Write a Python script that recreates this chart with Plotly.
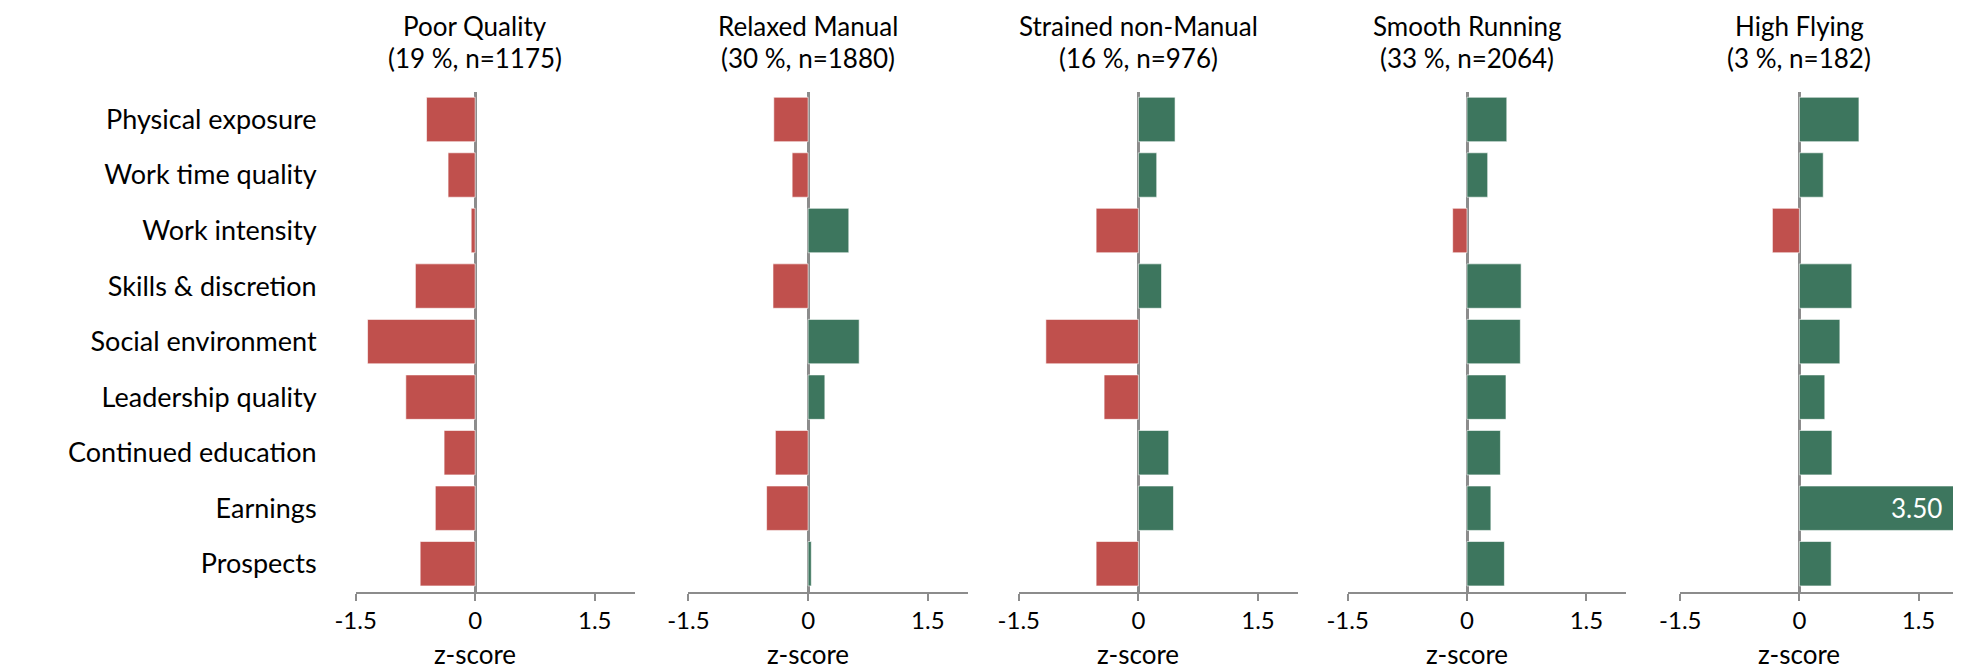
import plotly.graph_objects as go

categories = ["Physical exposure", "Work time quality", "Work intensity",
              "Skills & discretion", "Social environment", "Leadership quality",
              "Continued education", "Earnings", "Prospects"]

cluster_names = ["Poor Quality", "Relaxed Manual", "Strained non-Manual",
                 "Smooth Running", "High Flying"]
cluster_sizes = ["(19 %, n=1175)", "(30 %, n=1880)", "(16 %, n=976)",
                 "(33 %, n=2064)", "(3 %, n=182)"]

poor_quality = [-0.61, -0.34, -0.05, -0.75, -1.35, -0.87, -0.39, -0.50, -0.69]
relaxed_manual = [-0.43, -0.20, 0.51, -0.44, 0.64, 0.21, -0.41, -0.52, 0.04]
strained_non_manual = [0.46, 0.23, -0.53, 0.29, -1.16, -0.43, 0.38, 0.44, -0.53]
smooth_running = [0.50, 0.26, -0.18, 0.68, 0.67, 0.49, 0.42, 0.30, 0.47]
high_flying = [0.75, 0.30, -0.34, 0.66, 0.51, 0.32, 0.41, 3.50, 0.40]

series = [poor_quality, relaxed_manual, strained_non_manual, smooth_running, high_flying]

tick_vals = [-1.5, 0, 1.5]
tick_text = ["-1.5", "0", "1.5"]

RED = "#C0504D"
GREEN = "#3D765E"
AXIS = "#8C8C8C"
FONT = "Lato"

W, H = 1961, 670
OFF = 8  # default page body margin
# pixel positions on the page (left of -1.5 tick, right end of axis)
x_pages = [(355.6, 634.6), (688.4, 967.7), (1018.75, 1297.9), (1347.6, 1626.2), (1680.3, 1961 + OFF)]
x_ranges = [[-1.5, 2.0]] * 4 + [[-1.5, 2.0 + (1961 + OFF - 1958.2) / 79.4]]
y_top, y_bot = 91.7, 591.5
y_domain = [(H - (y_bot - OFF)) / H, (H - (y_top - OFF)) / H]


def py(page_y):
    return (H - (page_y - OFF)) / H


fig = go.Figure()
layout = dict(
    width=W, height=H, margin=dict(l=0, r=0, t=0, b=0, autoexpand=False),
    paper_bgcolor="white", plot_bgcolor="white", showlegend=False,
    bargap=0.2, font=dict(family=FONT, size=27, color="black"),
)
annotations = []

for i, vals in enumerate(series):
    n = "" if i == 0 else str(i + 1)
    colors = [GREEN if v >= 0 else RED for v in vals]
    fig.add_trace(go.Bar(
        x=vals, y=categories, orientation="h",
        marker=dict(color=colors, line=dict(color="rgba(255,255,255,0.6)", width=1)),
        xaxis="x" + n, yaxis="y" + n, hoverinfo="x+y",
    ))
    layout["xaxis" + n] = dict(
        domain=[(x_pages[i][0] - OFF) / W, min(1.0, (x_pages[i][1] - OFF) / W)],
        range=x_ranges[i],
        anchor="y" + n, showgrid=False, showline=True, linecolor=AXIS, linewidth=2,
        ticks="outside", ticklen=7, tickwidth=2, tickcolor=AXIS,
        tickvals=tick_vals, ticktext=tick_text, tickfont=dict(size=24),
        zeroline=True, zerolinecolor=AXIS, zerolinewidth=2.5, fixedrange=True,
        automargin=False,
    )
    layout["yaxis" + n] = dict(
        domain=y_domain, anchor="x" + n, categoryorder="array",
        categoryarray=categories, autorange="reversed", showgrid=False,
        showline=False, zeroline=False, ticks="", showticklabels=(i == 0),
        tickfont=dict(size=27), ticklabelstandoff=38, automargin=False,
    )
    annotations.append(dict(text=cluster_names[i], xref="x" + n, x=0, yref="paper",
                            y=py(26), xanchor="center", yanchor="middle",
                            showarrow=False, borderpad=0, font=dict(size=26)))
    annotations.append(dict(text=cluster_sizes[i], xref="x" + n, x=0, yref="paper",
                            y=py(58), xanchor="center", yanchor="middle",
                            showarrow=False, borderpad=0, font=dict(size=26)))
    annotations.append(dict(text="z-score", xref="x" + n, x=0, yref="paper",
                            y=py(654), xanchor="center", yanchor="middle",
                            showarrow=False, font=dict(size=26)))
    # value label for bars that run past the axis range
    for cat, v in zip(categories, vals):
        if v > x_ranges[i][1]:
            annotations.append(dict(text=f"{v:.2f}", xref="x" + n, x=0, xanchor="right",
                                    yref="y" + n, y=cat, yanchor="middle",
                                    xshift=(1961 - 19) - (1797.5), showarrow=False,
                                    font=dict(size=26, color="white")))

layout["annotations"] = annotations
fig.update_layout(**layout)
fig.write_html("out.html")
